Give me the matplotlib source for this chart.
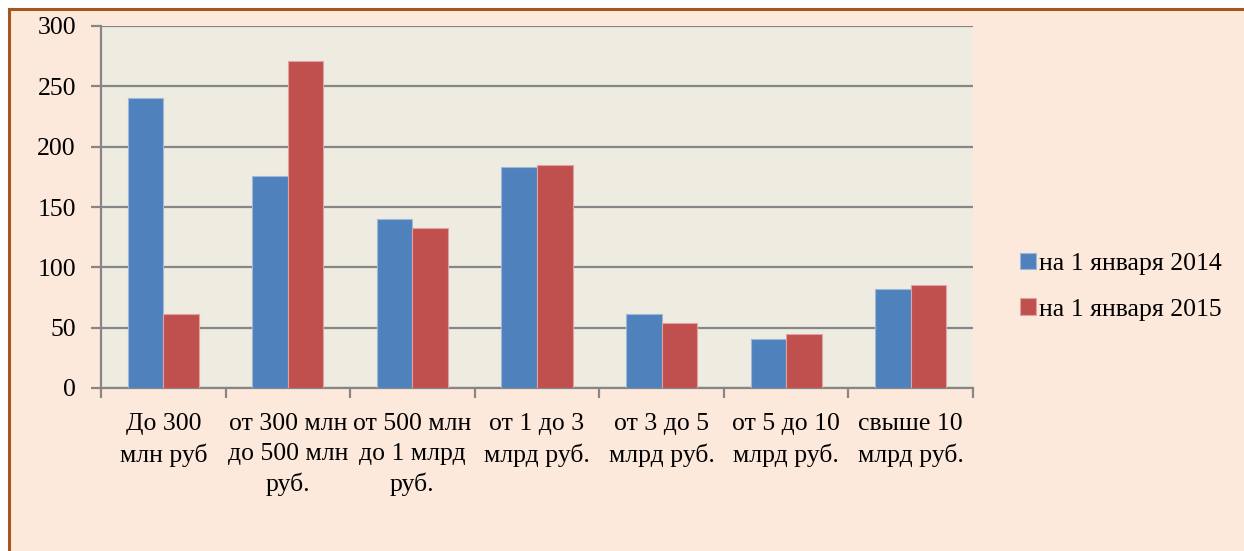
import matplotlib
matplotlib.use("Agg")
import matplotlib.pyplot as plt
from matplotlib.patches import Rectangle
import numpy as np

categories = ["До 300\nмлн руб", "от 300 млн\nдо 500 млн\nруб.", "от 500 млн\nдо 1 млрд\nруб.",
              "от 1 до 3\nмлрд руб.", "от 3 до 5\nмлрд руб.", "от 5 до 10\nмлрд руб.", "свыше 10\nмлрд руб."]
series_names = ["на 1 января 2014", "на 1 января 2015"]
values_2014 = [240, 176, 140, 183, 61, 41, 82]
values_2015 = [61, 271, 133, 185, 54, 45, 85]
yticks = [0, 50, 100, 150, 200, 250, 300]

plt.rcParams['font.family'] = ['Liberation Serif', 'DejaVu Serif']
W, H = 1244, 551
FS = 18.5
fig = plt.figure(figsize=(W/100, H/100), dpi=100)
fig.patch.set_facecolor('white')

# outer frame
bg = Rectangle((8.5/W, -0.05), 1.0, 1.05 - 9.5/H, transform=fig.transFigure,
               facecolor='#FDE9DB', edgecolor='#A5551F', linewidth=2.2, zorder=-10)
fig.patches.append(bg)

left, right = 101/W, 973/W
bottom, top = 1 - 388/H, 1 - 26/H
ax = fig.add_axes([left, bottom, right-left, top-bottom])
ax.set_zorder(5)
ax.set_facecolor('#EEECE1')

n = len(categories)
x = np.arange(n)
bw = 0.285
c1, c2 = '#4F81BD', '#C0504D'
ax.bar(x - bw/2, values_2014, bw, color=c1, edgecolor='#9DB8DC', linewidth=0.8, label=series_names[0], zorder=3)
ax.bar(x + bw/2, values_2015, bw, color=c2, edgecolor='#E0A3A1', linewidth=0.8, label=series_names[1], zorder=3)

ax.set_xlim(-0.5, n - 0.5)
ax.set_ylim(0, 300)
ax.set_yticks(yticks)
ax.yaxis.grid(True, color='#868686', linewidth=1.6, zorder=1)
ax.set_axisbelow(True)
for s in ['top', 'right']:
    ax.spines[s].set_visible(False)
for s in ['left', 'bottom']:
    ax.spines[s].set_color('#868686')
    ax.spines[s].set_linewidth(1.6)
ax.tick_params(axis='y', length=7, width=1.6, color='#868686', labelsize=FS, pad=11)
ax.set_xticks(np.arange(n + 1) - 0.5, minor=True)
ax.set_xticks(x)
ax.set_xticklabels(categories, fontsize=FS, linespacing=1.45)
ax.tick_params(axis='x', which='major', length=0, pad=18)
ax.tick_params(axis='x', which='minor', length=7, width=1.6, color='#868686')

leg = fig.legend(loc='upper left', bbox_to_anchor=(997/W, 1 - 230/H), frameon=False,
                 fontsize=FS, handlelength=0.6, handleheight=0.6, handletextpad=0.15,
                 labelspacing=0.9)
leg.set_zorder(6)

fig.savefig('out.png', dpi=100, facecolor=fig.get_facecolor())
